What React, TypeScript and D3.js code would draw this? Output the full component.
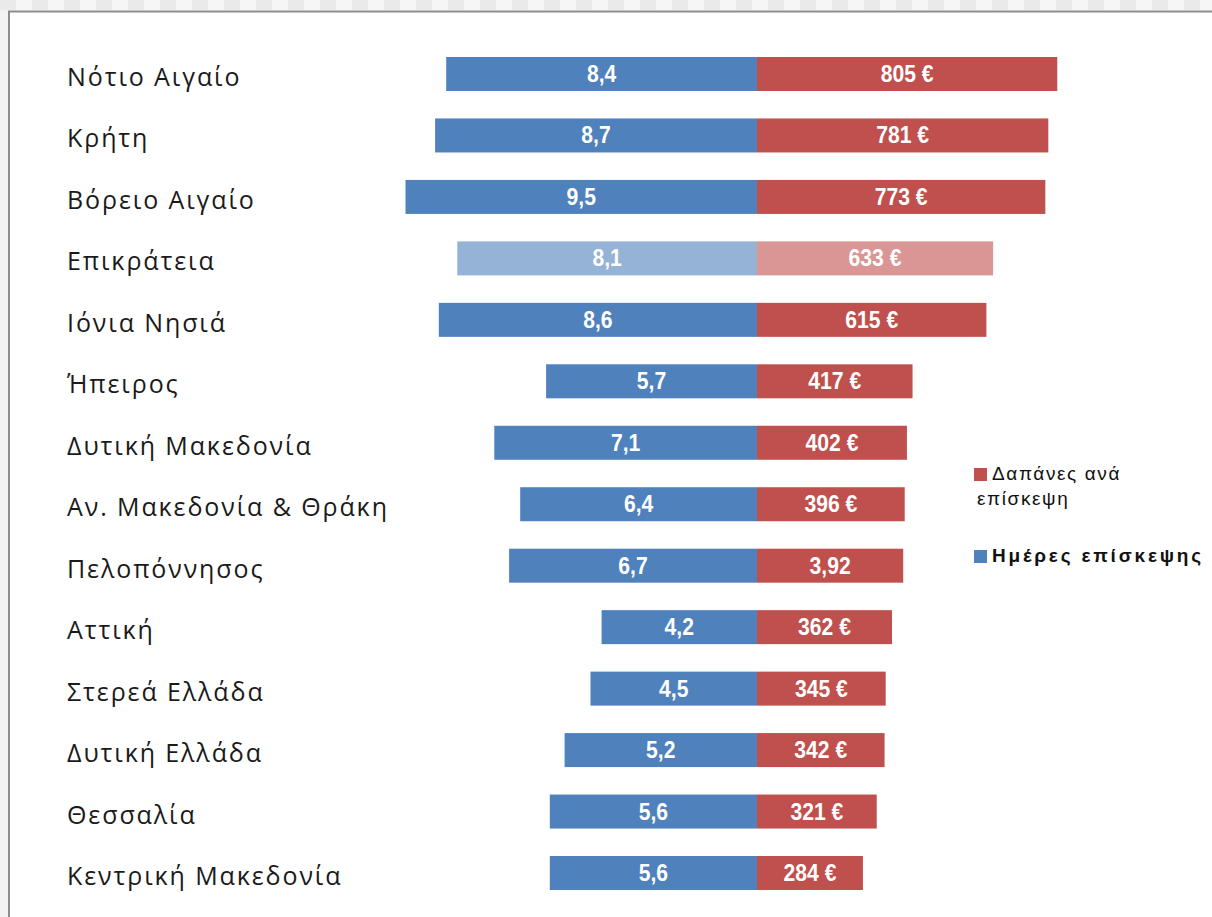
import React, { useEffect, useRef } from "react";
import * as d3 from "d3";

const regions = [
  "Νότιο Αιγαίο",
  "Κρήτη",
  "Βόρειο Αιγαίο",
  "Επικράτεια",
  "Ιόνια Νησιά",
  "Ήπειρος",
  "Δυτική Μακεδονία",
  "Αν. Μακεδονία & Θράκη",
  "Πελοπόννησος",
  "Αττική",
  "Στερεά Ελλάδα",
  "Δυτική Ελλάδα",
  "Θεσσαλία",
  "Κεντρική Μακεδονία",
];
const days = [8.4, 8.7, 9.5, 8.1, 8.6, 5.7, 7.1, 6.4, 6.7, 4.2, 4.5, 5.2, 5.6, 5.6];
const spend = [805, 781, 773, 633, 615, 417, 402, 396, 392, 362, 345, 342, 321, 284];
const spendLabels = ["805 €", "781 €", "773 €", "633 €", "615 €", "417 €", "402 €", "396 €", "3,92", "362 €", "345 €", "342 €", "321 €", "284 €"];
const highlight = "Επικράτεια";
const legendItems = [
  { lines: ["Δαπάνες ανά", "επίσκεψη"], color: "#C0504D", bold: false },
  { lines: ["Ημέρες επίσκεψης"], color: "#4F81BD", bold: true },
];

const W = 1212;
const H = 917;

const App = () => {
  const ref = useRef<SVGSVGElement | null>(null);

  useEffect(() => {
    const svg = d3.select(ref.current);
    svg.selectAll("*").remove();

    // frame around the chart
    const strip = d3.range(0, W, 16);
    svg.selectAll(".chk").data(strip).enter().append("rect")
      .attr("x", d => d).attr("y", 0).attr("width", 16).attr("height", 10)
      .attr("fill", (d, i) => (i % 2 ? "#f6f6f6" : "#eaeaea"));
    svg.append("rect").attr("x", 0).attr("y", 10).attr("width", 8).attr("height", H).attr("fill", "#f3f3f3");
    svg.append("rect").attr("x", 9).attr("y", 11.5).attr("width", W).attr("height", H).attr("fill", "#ffffff")
      .attr("stroke", "#8c8c8c").attr("stroke-width", 2);

    const centerX = 757;
    const y = d3.scalePoint<string>().domain(regions).range([74, 873]);
    const xDays = d3.scaleLinear().domain([0, 10]).range([0, 370]);
    const xSpend = d3.scaleLinear().domain([0, 1000]).range([0, 373]);
    const barH = 34;

    const rows = regions.map((r, i) => ({ r, d: days[i], s: spend[i], label: spendLabels[i] }));
    const g = svg.append("g");

    g.selectAll(".cat").data(rows).enter().append("text")
      .attr("x", 67).attr("y", d => (y(d.r) as number) + 12)
      .attr("font-family", "'Open Sans', 'Noto Sans', sans-serif")
      .attr("font-size", 25).attr("letter-spacing", 1.9).attr("fill", "#1a1a1a")
      .text(d => d.r);

    g.selectAll(".bd").data(rows).enter().append("rect")
      .attr("x", d => centerX - xDays(d.d)).attr("y", d => (y(d.r) as number) - barH / 2)
      .attr("width", d => xDays(d.d)).attr("height", barH)
      .attr("fill", d => (d.r === highlight ? "#95B3D7" : "#4F81BD"));

    g.selectAll(".bs").data(rows).enter().append("rect")
      .attr("x", centerX).attr("y", d => (y(d.r) as number) - barH / 2)
      .attr("width", d => xSpend(d.s)).attr("height", barH)
      .attr("fill", d => (d.r === highlight ? "#D99694" : "#C0504D"));

    const valFont = "'Liberation Sans', Arial, sans-serif";
    g.selectAll(".ld").data(rows).enter().append("text")
      .attr("transform", d => `translate(${centerX - xDays(d.d) / 2},${(y(d.r) as number) + 8}) scale(0.92,1)`)
      .attr("text-anchor", "middle").attr("font-family", valFont).attr("font-weight", "bold")
      .attr("font-size", 23).attr("fill", "#ffffff")
      .text(d => d3.format(".1f")(d.d).replace(".", ","));

    g.selectAll(".ls").data(rows).enter().append("text")
      .attr("transform", d => `translate(${centerX + xSpend(d.s) / 2},${(y(d.r) as number) + 8}) scale(0.92,1)`)
      .attr("text-anchor", "middle").attr("font-family", valFont).attr("font-weight", "bold")
      .attr("font-size", 23).attr("fill", "#ffffff")
      .text(d => d.label);

    // legend
    const legend = svg.append("g").attr("transform", "translate(974,468)");
    const offsets = [0, 82];
    legendItems.forEach((item, i) => {
      const lg = legend.append("g").attr("transform", `translate(0,${offsets[i]})`);
      lg.append("rect").attr("width", 13).attr("height", 13).attr("fill", item.color);
      item.lines.forEach((line, j) => {
        lg.append("text")
          .attr("x", j === 0 ? 18 : 3).attr("y", 12 + j * 25)
          .attr("font-family", "'Liberation Sans', Arial, sans-serif")
          .attr("font-size", 19).attr("letter-spacing", item.bold ? 2.8 : 1.6)
          .attr("font-weight", item.bold ? "bold" : "normal")
          .attr("fill", "#111")
          .text(line);
      });
    });
  }, []);

  return (
    <div style={{ position: "absolute", left: 0, top: 0, width: W, height: H, overflow: "hidden" }}>
      <svg ref={ref} width={W} height={H} />
    </div>
  );
};

export default App;
